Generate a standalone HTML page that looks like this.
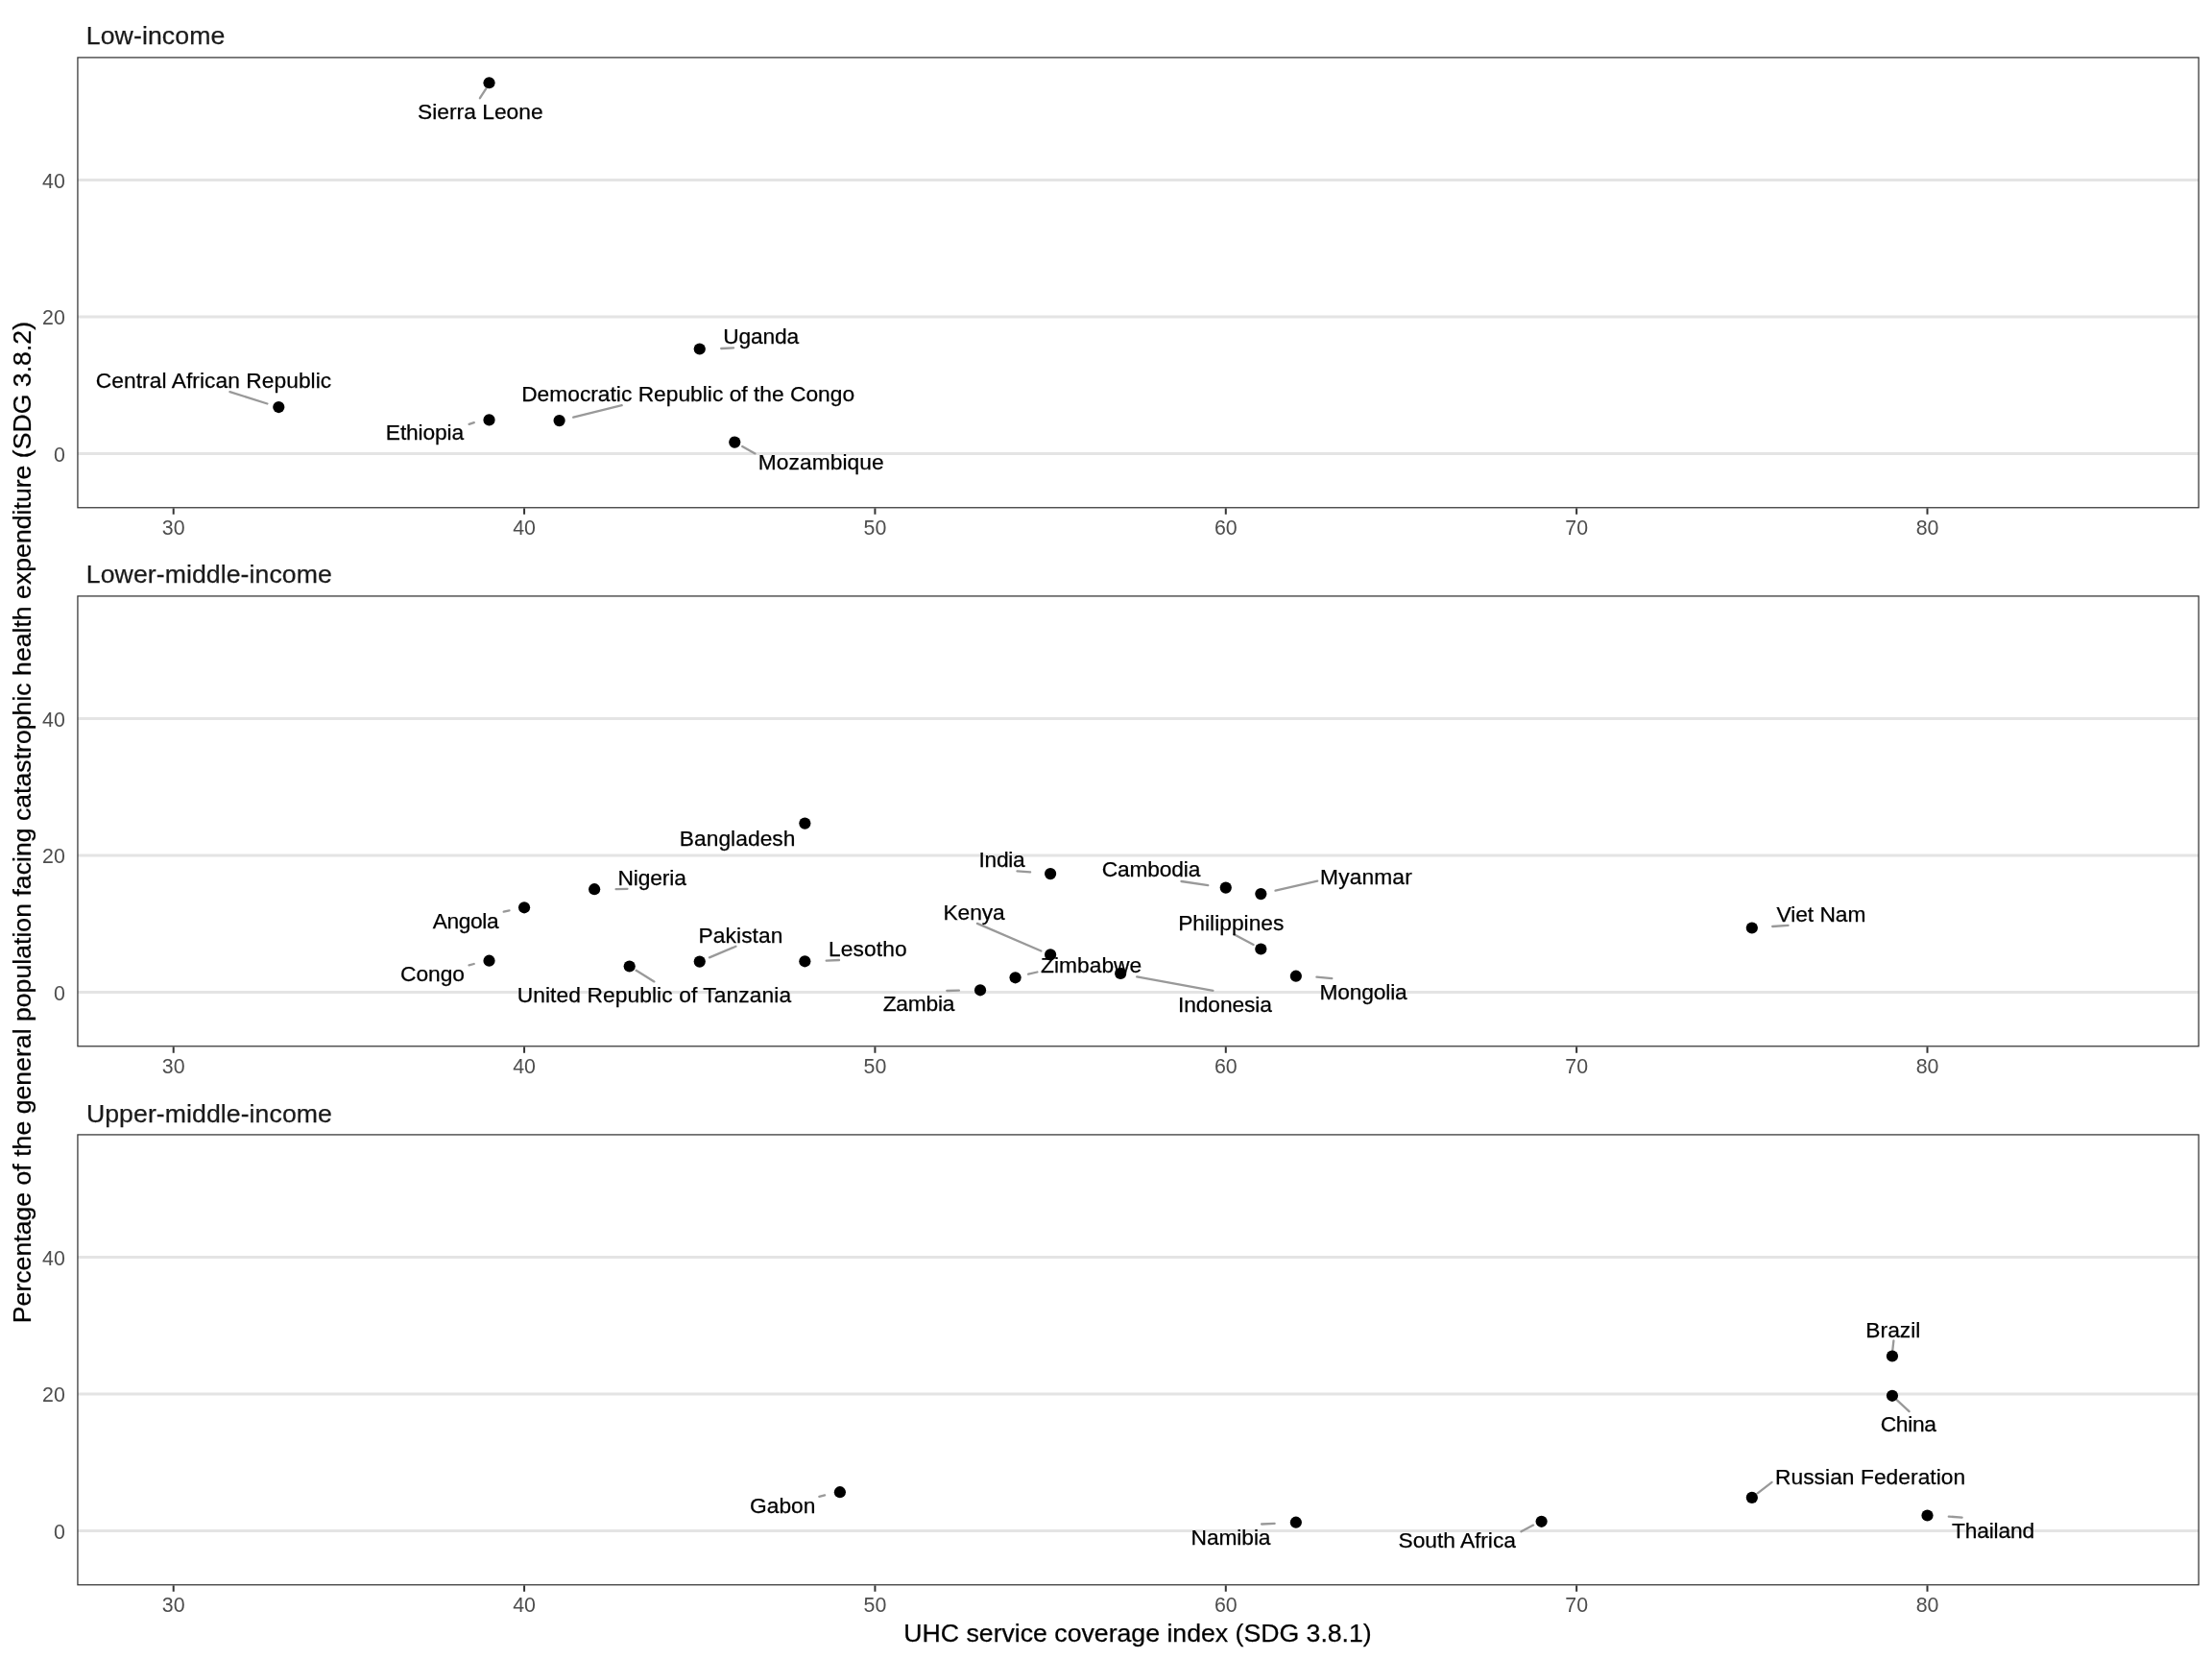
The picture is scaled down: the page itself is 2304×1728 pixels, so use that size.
<!DOCTYPE html>
<html><head><meta charset="utf-8"><style>html,body{margin:0;padding:0;background:#fff;}svg{display:block;will-change:transform;}</style></head><body>
<svg width="2304" height="1728" viewBox="0 0 2304 1728" style="font-family:&quot;Liberation Sans&quot;, sans-serif">
<rect x="0" y="0" width="2304" height="1728" fill="#ffffff"/>
<line x1="80.94" y1="472.50" x2="2290.1" y2="472.50" stroke="#e4e4e4" stroke-width="3.0"/>
<line x1="80.94" y1="330.00" x2="2290.1" y2="330.00" stroke="#e4e4e4" stroke-width="3.0"/>
<line x1="80.94" y1="187.50" x2="2290.1" y2="187.50" stroke="#e4e4e4" stroke-width="3.0"/>
<rect x="80.94" y="59.92" width="2209.16" height="468.85" fill="none" stroke="#333333" stroke-width="1.25"/>
<line x1="180.70" y1="529.37" x2="180.70" y2="535.77" stroke="#333333" stroke-width="2"/>
<text x="180.70" y="556.87" font-size="21.33" fill="#4d4d4d" text-anchor="middle">30</text>
<line x1="546.06" y1="529.37" x2="546.06" y2="535.77" stroke="#333333" stroke-width="2"/>
<text x="546.06" y="556.87" font-size="21.33" fill="#4d4d4d" text-anchor="middle">40</text>
<line x1="911.42" y1="529.37" x2="911.42" y2="535.77" stroke="#333333" stroke-width="2"/>
<text x="911.42" y="556.87" font-size="21.33" fill="#4d4d4d" text-anchor="middle">50</text>
<line x1="1276.78" y1="529.37" x2="1276.78" y2="535.77" stroke="#333333" stroke-width="2"/>
<text x="1276.78" y="556.87" font-size="21.33" fill="#4d4d4d" text-anchor="middle">60</text>
<line x1="1642.14" y1="529.37" x2="1642.14" y2="535.77" stroke="#333333" stroke-width="2"/>
<text x="1642.14" y="556.87" font-size="21.33" fill="#4d4d4d" text-anchor="middle">70</text>
<line x1="2007.50" y1="529.37" x2="2007.50" y2="535.77" stroke="#333333" stroke-width="2"/>
<text x="2007.50" y="556.87" font-size="21.33" fill="#4d4d4d" text-anchor="middle">80</text>
<text x="67.85" y="480.90" font-size="21.33" fill="#4d4d4d" text-anchor="end">0</text>
<text x="67.85" y="338.40" font-size="21.33" fill="#4d4d4d" text-anchor="end">20</text>
<text x="67.85" y="195.90" font-size="21.33" fill="#4d4d4d" text-anchor="end">40</text>
<text x="89.77" y="45.80" font-size="26.67" fill="#1a1a1a" stroke="#1a1a1a" stroke-width="0.25" textLength="144.57" lengthAdjust="spacing">Low-income</text>
<line x1="80.94" y1="1033.50" x2="2290.1" y2="1033.50" stroke="#e4e4e4" stroke-width="3.0"/>
<line x1="80.94" y1="891.00" x2="2290.1" y2="891.00" stroke="#e4e4e4" stroke-width="3.0"/>
<line x1="80.94" y1="748.50" x2="2290.1" y2="748.50" stroke="#e4e4e4" stroke-width="3.0"/>
<rect x="80.94" y="620.92" width="2209.16" height="468.85" fill="none" stroke="#333333" stroke-width="1.25"/>
<line x1="180.70" y1="1090.37" x2="180.70" y2="1096.77" stroke="#333333" stroke-width="2"/>
<text x="180.70" y="1117.87" font-size="21.33" fill="#4d4d4d" text-anchor="middle">30</text>
<line x1="546.06" y1="1090.37" x2="546.06" y2="1096.77" stroke="#333333" stroke-width="2"/>
<text x="546.06" y="1117.87" font-size="21.33" fill="#4d4d4d" text-anchor="middle">40</text>
<line x1="911.42" y1="1090.37" x2="911.42" y2="1096.77" stroke="#333333" stroke-width="2"/>
<text x="911.42" y="1117.87" font-size="21.33" fill="#4d4d4d" text-anchor="middle">50</text>
<line x1="1276.78" y1="1090.37" x2="1276.78" y2="1096.77" stroke="#333333" stroke-width="2"/>
<text x="1276.78" y="1117.87" font-size="21.33" fill="#4d4d4d" text-anchor="middle">60</text>
<line x1="1642.14" y1="1090.37" x2="1642.14" y2="1096.77" stroke="#333333" stroke-width="2"/>
<text x="1642.14" y="1117.87" font-size="21.33" fill="#4d4d4d" text-anchor="middle">70</text>
<line x1="2007.50" y1="1090.37" x2="2007.50" y2="1096.77" stroke="#333333" stroke-width="2"/>
<text x="2007.50" y="1117.87" font-size="21.33" fill="#4d4d4d" text-anchor="middle">80</text>
<text x="67.85" y="1041.90" font-size="21.33" fill="#4d4d4d" text-anchor="end">0</text>
<text x="67.85" y="899.40" font-size="21.33" fill="#4d4d4d" text-anchor="end">20</text>
<text x="67.85" y="756.90" font-size="21.33" fill="#4d4d4d" text-anchor="end">40</text>
<text x="89.77" y="606.90" font-size="26.67" fill="#1a1a1a" stroke="#1a1a1a" stroke-width="0.25" textLength="256.08" lengthAdjust="spacing">Lower-middle-income</text>
<line x1="80.94" y1="1594.50" x2="2290.1" y2="1594.50" stroke="#e4e4e4" stroke-width="3.0"/>
<line x1="80.94" y1="1452.00" x2="2290.1" y2="1452.00" stroke="#e4e4e4" stroke-width="3.0"/>
<line x1="80.94" y1="1309.50" x2="2290.1" y2="1309.50" stroke="#e4e4e4" stroke-width="3.0"/>
<rect x="80.94" y="1181.92" width="2209.16" height="468.85" fill="none" stroke="#333333" stroke-width="1.25"/>
<line x1="180.70" y1="1651.37" x2="180.70" y2="1657.77" stroke="#333333" stroke-width="2"/>
<text x="180.70" y="1678.87" font-size="21.33" fill="#4d4d4d" text-anchor="middle">30</text>
<line x1="546.06" y1="1651.37" x2="546.06" y2="1657.77" stroke="#333333" stroke-width="2"/>
<text x="546.06" y="1678.87" font-size="21.33" fill="#4d4d4d" text-anchor="middle">40</text>
<line x1="911.42" y1="1651.37" x2="911.42" y2="1657.77" stroke="#333333" stroke-width="2"/>
<text x="911.42" y="1678.87" font-size="21.33" fill="#4d4d4d" text-anchor="middle">50</text>
<line x1="1276.78" y1="1651.37" x2="1276.78" y2="1657.77" stroke="#333333" stroke-width="2"/>
<text x="1276.78" y="1678.87" font-size="21.33" fill="#4d4d4d" text-anchor="middle">60</text>
<line x1="1642.14" y1="1651.37" x2="1642.14" y2="1657.77" stroke="#333333" stroke-width="2"/>
<text x="1642.14" y="1678.87" font-size="21.33" fill="#4d4d4d" text-anchor="middle">70</text>
<line x1="2007.50" y1="1651.37" x2="2007.50" y2="1657.77" stroke="#333333" stroke-width="2"/>
<text x="2007.50" y="1678.87" font-size="21.33" fill="#4d4d4d" text-anchor="middle">80</text>
<text x="67.85" y="1602.90" font-size="21.33" fill="#4d4d4d" text-anchor="end">0</text>
<text x="67.85" y="1460.40" font-size="21.33" fill="#4d4d4d" text-anchor="end">20</text>
<text x="67.85" y="1317.90" font-size="21.33" fill="#4d4d4d" text-anchor="end">40</text>
<text x="89.91" y="1168.60" font-size="26.67" fill="#1a1a1a" stroke="#1a1a1a" stroke-width="0.25" textLength="255.95" lengthAdjust="spacing">Upper-middle-income</text>
<line x1="506.4" y1="92.1" x2="499.9" y2="102.2" stroke="#999999" stroke-width="2.3" stroke-linecap="round"/>
<line x1="751.2" y1="363.0" x2="764.1" y2="362.3" stroke="#999999" stroke-width="2.3" stroke-linecap="round"/>
<line x1="239.4" y1="408.1" x2="278.4" y2="420.5" stroke="#999999" stroke-width="2.3" stroke-linecap="round"/>
<line x1="488.6" y1="441.9" x2="493.8" y2="440.1" stroke="#999999" stroke-width="2.3" stroke-linecap="round"/>
<line x1="597.2" y1="434.7" x2="647.7" y2="422.2" stroke="#999999" stroke-width="2.3" stroke-linecap="round"/>
<line x1="773.2" y1="465.0" x2="786.5" y2="472.4" stroke="#999999" stroke-width="2.3" stroke-linecap="round"/>
<line x1="641.6" y1="926.2" x2="653.5" y2="925.9" stroke="#999999" stroke-width="2.3" stroke-linecap="round"/>
<line x1="524.7" y1="949.7" x2="530.5" y2="948.3" stroke="#999999" stroke-width="2.3" stroke-linecap="round"/>
<line x1="488.5" y1="1005.3" x2="493.7" y2="1004.0" stroke="#999999" stroke-width="2.3" stroke-linecap="round"/>
<line x1="662.6" y1="1010.8" x2="681.4" y2="1022.4" stroke="#999999" stroke-width="2.3" stroke-linecap="round"/>
<line x1="738.9" y1="997.4" x2="766.4" y2="985.8" stroke="#999999" stroke-width="2.3" stroke-linecap="round"/>
<line x1="860.7" y1="1000.6" x2="874.0" y2="1000.0" stroke="#999999" stroke-width="2.3" stroke-linecap="round"/>
<line x1="986.3" y1="1032.0" x2="998.9" y2="1031.7" stroke="#999999" stroke-width="2.3" stroke-linecap="round"/>
<line x1="1059.5" y1="907.3" x2="1073.1" y2="908.3" stroke="#999999" stroke-width="2.3" stroke-linecap="round"/>
<line x1="1230.5" y1="918.0" x2="1258.3" y2="922.1" stroke="#999999" stroke-width="2.3" stroke-linecap="round"/>
<line x1="1017.9" y1="961.9" x2="1084.4" y2="990.5" stroke="#999999" stroke-width="2.3" stroke-linecap="round"/>
<line x1="1071.1" y1="1014.7" x2="1080.4" y2="1012.5" stroke="#999999" stroke-width="2.3" stroke-linecap="round"/>
<line x1="1184.2" y1="1017.3" x2="1263.4" y2="1031.9" stroke="#999999" stroke-width="2.3" stroke-linecap="round"/>
<line x1="1328.5" y1="927.7" x2="1372.2" y2="917.6" stroke="#999999" stroke-width="2.3" stroke-linecap="round"/>
<line x1="1285.4" y1="973.3" x2="1305.6" y2="983.9" stroke="#999999" stroke-width="2.3" stroke-linecap="round"/>
<line x1="1371.4" y1="1017.7" x2="1387.3" y2="1019.2" stroke="#999999" stroke-width="2.3" stroke-linecap="round"/>
<line x1="1846.2" y1="965.0" x2="1862.5" y2="963.9" stroke="#999999" stroke-width="2.3" stroke-linecap="round"/>
<line x1="853.3" y1="1558.8" x2="859.1" y2="1557.3" stroke="#999999" stroke-width="2.3" stroke-linecap="round"/>
<line x1="1314.1" y1="1587.5" x2="1327.6" y2="1586.8" stroke="#999999" stroke-width="2.3" stroke-linecap="round"/>
<line x1="1584.4" y1="1595.3" x2="1597.1" y2="1588.6" stroke="#999999" stroke-width="2.3" stroke-linecap="round"/>
<line x1="1972.4" y1="1396.3" x2="1971.3" y2="1406.4" stroke="#999999" stroke-width="2.3" stroke-linecap="round"/>
<line x1="1975.9" y1="1458.3" x2="1988.6" y2="1470.1" stroke="#999999" stroke-width="2.3" stroke-linecap="round"/>
<line x1="1830.7" y1="1555.3" x2="1845.6" y2="1543.9" stroke="#999999" stroke-width="2.3" stroke-linecap="round"/>
<line x1="2029.8" y1="1579.6" x2="2043.6" y2="1580.6" stroke="#999999" stroke-width="2.3" stroke-linecap="round"/>
<circle cx="509.52" cy="86.27" r="6.1" fill="#000000"/>
<circle cx="728.74" cy="363.5" r="6.1" fill="#000000"/>
<circle cx="290.31" cy="424.05" r="6.1" fill="#000000"/>
<circle cx="509.52" cy="437.4" r="6.1" fill="#000000"/>
<circle cx="582.60" cy="438.1" r="6.1" fill="#000000"/>
<circle cx="765.28" cy="460.6" r="6.1" fill="#000000"/>
<circle cx="619.13" cy="926.2" r="6.1" fill="#000000"/>
<circle cx="546.06" cy="945.3" r="6.1" fill="#000000"/>
<circle cx="509.52" cy="1000.7" r="6.1" fill="#000000"/>
<circle cx="655.67" cy="1006.5" r="6.1" fill="#000000"/>
<circle cx="838.35" cy="857.6" r="6.1" fill="#000000"/>
<circle cx="728.74" cy="1001.6" r="6.1" fill="#000000"/>
<circle cx="838.35" cy="1001.3" r="6.1" fill="#000000"/>
<circle cx="1021.03" cy="1031.3" r="6.1" fill="#000000"/>
<circle cx="1094.10" cy="910.1" r="6.1" fill="#000000"/>
<circle cx="1276.78" cy="924.6" r="6.1" fill="#000000"/>
<circle cx="1094.10" cy="994.4" r="6.1" fill="#000000"/>
<circle cx="1057.56" cy="1018.3" r="6.1" fill="#000000"/>
<circle cx="1167.17" cy="1013.9" r="6.1" fill="#000000"/>
<circle cx="1313.32" cy="931.1" r="6.1" fill="#000000"/>
<circle cx="1313.32" cy="988.5" r="6.1" fill="#000000"/>
<circle cx="1349.85" cy="1016.7" r="6.1" fill="#000000"/>
<circle cx="1824.82" cy="966.5" r="6.1" fill="#000000"/>
<circle cx="874.88" cy="1554.2" r="6.1" fill="#000000"/>
<circle cx="1349.85" cy="1585.7" r="6.1" fill="#000000"/>
<circle cx="1605.60" cy="1584.8" r="6.1" fill="#000000"/>
<circle cx="1970.96" cy="1412.5" r="6.1" fill="#000000"/>
<circle cx="1970.96" cy="1453.8" r="6.1" fill="#000000"/>
<circle cx="1824.82" cy="1559.9" r="6.1" fill="#000000"/>
<circle cx="2007.50" cy="1578.5" r="6.1" fill="#000000"/>
<text x="435.00" y="123.90" font-size="22.76" fill="#000000" stroke="#000000" stroke-width="0.25" textLength="130.57" lengthAdjust="spacing">Sierra Leone</text>
<text x="753.36" y="358.10" font-size="22.76" fill="#000000" stroke="#000000" stroke-width="0.25" textLength="78.77" lengthAdjust="spacing">Uganda</text>
<text x="99.75" y="403.80" font-size="22.76" fill="#000000" stroke="#000000" stroke-width="0.25" textLength="245.46" lengthAdjust="spacing">Central African Republic</text>
<text x="401.85" y="457.50" font-size="22.76" fill="#000000" stroke="#000000" stroke-width="0.25" textLength="81.30" lengthAdjust="spacing">Ethiopia</text>
<text x="543.15" y="418.20" font-size="22.76" fill="#000000" stroke="#000000" stroke-width="0.25" textLength="346.95" lengthAdjust="spacing">Democratic Republic of the Congo</text>
<text x="789.85" y="488.70" font-size="22.76" fill="#000000" stroke="#000000" stroke-width="0.25" textLength="130.70" lengthAdjust="spacing">Mozambique</text>
<text x="643.45" y="921.50" font-size="22.76" fill="#000000" stroke="#000000" stroke-width="0.25" textLength="71.48" lengthAdjust="spacing">Nigeria</text>
<text x="450.67" y="966.70" font-size="22.76" fill="#000000" stroke="#000000" stroke-width="0.25" textLength="68.98" lengthAdjust="spacing">Angola</text>
<text x="417.09" y="1021.60" font-size="22.76" fill="#000000" stroke="#000000" stroke-width="0.25" textLength="66.94" lengthAdjust="spacing">Congo</text>
<text x="538.66" y="1043.60" font-size="22.76" fill="#000000" stroke="#000000" stroke-width="0.25" textLength="285.41" lengthAdjust="spacing">United Republic of Tanzania</text>
<text x="707.75" y="880.90" font-size="22.76" fill="#000000" stroke="#000000" stroke-width="0.25" textLength="120.70" lengthAdjust="spacing">Bangladesh</text>
<text x="727.55" y="981.80" font-size="22.76" fill="#000000" stroke="#000000" stroke-width="0.25" textLength="87.86" lengthAdjust="spacing">Pakistan</text>
<text x="863.05" y="995.90" font-size="22.76" fill="#000000" stroke="#000000" stroke-width="0.25" textLength="81.67" lengthAdjust="spacing">Lesotho</text>
<text x="919.69" y="1053.40" font-size="22.76" fill="#000000" stroke="#000000" stroke-width="0.25" textLength="74.68" lengthAdjust="spacing">Zambia</text>
<text x="1019.52" y="903.00" font-size="22.76" fill="#000000" stroke="#000000" stroke-width="0.25" textLength="48.12" lengthAdjust="spacing">India</text>
<text x="1147.79" y="913.40" font-size="22.76" fill="#000000" stroke="#000000" stroke-width="0.25" textLength="102.55" lengthAdjust="spacing">Cambodia</text>
<text x="982.55" y="957.50" font-size="22.76" fill="#000000" stroke="#000000" stroke-width="0.25" textLength="64.08" lengthAdjust="spacing">Kenya</text>
<text x="1084.09" y="1012.90" font-size="22.76" fill="#000000" stroke="#000000" stroke-width="0.25" textLength="105.07" lengthAdjust="spacing">Zimbabwe</text>
<text x="1226.92" y="1053.60" font-size="22.76" fill="#000000" stroke="#000000" stroke-width="0.25" textLength="98.05" lengthAdjust="spacing">Indonesia</text>
<text x="1375.05" y="920.90" font-size="22.76" fill="#000000" stroke="#000000" stroke-width="0.25" textLength="95.67" lengthAdjust="spacing">Myanmar</text>
<text x="1227.15" y="968.50" font-size="22.76" fill="#000000" stroke="#000000" stroke-width="0.25" textLength="110.20" lengthAdjust="spacing">Philippines</text>
<text x="1374.45" y="1040.60" font-size="22.76" fill="#000000" stroke="#000000" stroke-width="0.25" textLength="91.29" lengthAdjust="spacing">Mongolia</text>
<text x="1850.51" y="959.90" font-size="22.76" fill="#000000" stroke="#000000" stroke-width="0.25" textLength="92.83" lengthAdjust="spacing">Viet Nam</text>
<text x="781.09" y="1575.70" font-size="22.76" fill="#000000" stroke="#000000" stroke-width="0.25" textLength="68.31" lengthAdjust="spacing">Gabon</text>
<text x="1240.55" y="1608.80" font-size="22.76" fill="#000000" stroke="#000000" stroke-width="0.25" textLength="82.98" lengthAdjust="spacing">Namibia</text>
<text x="1456.60" y="1611.50" font-size="22.76" fill="#000000" stroke="#000000" stroke-width="0.25" textLength="122.27" lengthAdjust="spacing">South Africa</text>
<text x="1943.35" y="1392.90" font-size="22.76" fill="#000000" stroke="#000000" stroke-width="0.25" textLength="56.98" lengthAdjust="spacing">Brazil</text>
<text x="1958.69" y="1490.80" font-size="22.76" fill="#000000" stroke="#000000" stroke-width="0.25" textLength="58.24" lengthAdjust="spacing">China</text>
<text x="1848.95" y="1546.00" font-size="22.76" fill="#000000" stroke="#000000" stroke-width="0.25" textLength="198.29" lengthAdjust="spacing">Russian Federation</text>
<text x="2032.91" y="1601.80" font-size="22.76" fill="#000000" stroke="#000000" stroke-width="0.25" textLength="86.31" lengthAdjust="spacing">Thailand</text>
<text x="941.33" y="1709.8" font-size="26.67" fill="#000000" stroke="#000000" stroke-width="0.25">UHC service coverage index (SDG 3.8.1)</text>
<text transform="translate(31.9,1378.20) rotate(-90)" x="0" y="0" font-size="26.67" fill="#000000" stroke="#000000" stroke-width="0.25">Percentage of the general population facing catastrophic health expenditure (SDG 3.8.2)</text>
</svg>
</body></html>
